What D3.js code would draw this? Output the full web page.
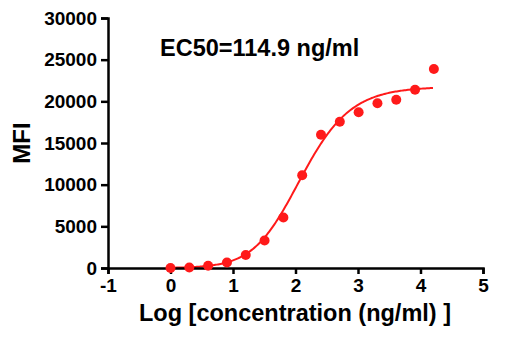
<!DOCTYPE html>
<html>
<head>
<meta charset="utf-8">
<script src="https://cdn.jsdelivr.net/npm/d3@7"></script>
<style>
  body { margin: 0; background: #fff; }
  text { font-family: "Liberation Sans", Arial, sans-serif; font-weight: bold; fill: #000; }
</style>
</head>
<body>
<svg id="chart" width="516" height="343"></svg>
<script>
// measured points: log10 of concentration (2-fold dilutions from 1 ng/ml)
var logConc = [0, 0.301, 0.602, 0.903, 1.204, 1.505, 1.806, 2.107, 2.408, 2.709, 3.010, 3.311, 3.612, 3.913, 4.214];
var mfi = [0, 50, 280, 670, 1560, 3310, 6070, 11120, 16000, 17560, 18680, 19760, 20200, 21400, 23880];

// fit curve parameters (asymmetric logistic)
var fitBottom = 0;
var fitTop = 21750;
var fitLogC = 1.862;
var fitHill = 1.0;
var fitAsym = 1.5;

var xTicks = [-1, 0, 1, 2, 3, 4, 5];
var yTicks = [0, 5000, 10000, 15000, 20000, 25000, 30000];

var svg = d3.select("#chart");

var x = d3.scaleLinear().domain([-1, 5]).range([108, 483]);
var y = d3.scaleLinear().domain([0, 30000]).range([268, 18]);

// fitted curve
var fit = function (lx) {
    return fitBottom + (fitTop - fitBottom) / Math.pow(1 + Math.pow(10, (fitLogC - lx) * fitHill), fitAsym);
};
var curve = d3.range(0, 4.2001, 0.02).map(function (lx) { return [lx, fit(lx)]; });

svg.append("path")
    .datum(curve)
    .attr("fill", "none")
    .attr("stroke", "#ff1a1a")
    .attr("stroke-width", 2)
    .attr("d", d3.line().x(function (d) { return x(d[0]); }).y(function (d) { return y(d[1]); }));

// axes
var xAxis = svg.append("g")
    .attr("transform", "translate(0,268)")
    .call(d3.axisBottom(x).tickValues(xTicks).tickSize(6).tickPadding(5)
        .tickFormat(function (d) { return String(d); }));

var yAxis = svg.append("g")
    .attr("transform", "translate(108,0)")
    .call(d3.axisLeft(y).tickValues(yTicks).tickSize(7).tickPadding(4)
        .tickFormat(function (d) { return String(d); }));

[xAxis, yAxis].forEach(function (g) {
    g.select(".domain").attr("stroke", "#000").attr("stroke-width", 2.5);
    g.selectAll(".tick line").attr("stroke", "#000").attr("stroke-width", 2.5);
    g.selectAll(".tick text").style("font-size", "19px").style("font-family", "Liberation Sans, Arial, sans-serif").style("font-weight", "bold");
});

// points
svg.append("g")
    .selectAll("circle")
    .data(logConc)
    .enter()
    .append("circle")
    .attr("cx", function (d) { return x(d); })
    .attr("cy", function (d, i) { return y(mfi[i]); })
    .attr("r", 5)
    .attr("fill", "#ff1a1a");

// labels
svg.append("text")
    .attr("x", 160)
    .attr("y", 56)
    .style("font-size", "23.5px")
    .text("EC50=114.9 ng/ml");

svg.append("text")
    .attr("x", 295)
    .attr("y", 321)
    .attr("text-anchor", "middle")
    .style("font-size", "23.5px")
    .text("Log [concentration (ng/ml) ]");

svg.append("text")
    .attr("transform", "translate(30,143) rotate(-90)")
    .attr("text-anchor", "middle")
    .style("font-size", "24px")
    .text("MFI");
</script>
</body>
</html>
